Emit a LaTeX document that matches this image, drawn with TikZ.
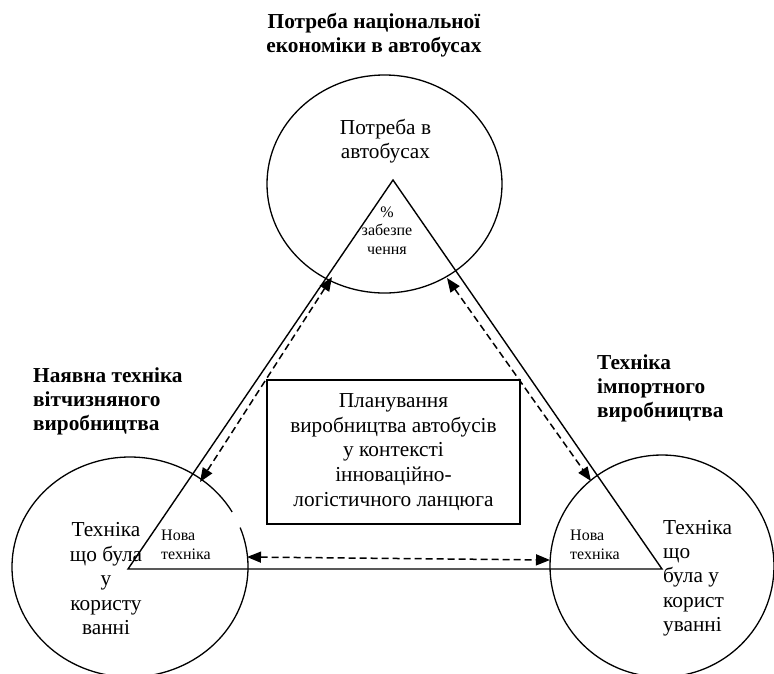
\documentclass[tikz,border=0pt]{standalone}
\usepackage{fontspec}
\setmainfont{Liberation Serif}
\usetikzlibrary{arrows.meta,shapes.geometric}
\begin{document}
\begin{tikzpicture}[x=1pt,y=-1pt,
  solidline/.style={line width=1.4pt},
  ring/.style={ellipse,draw,line width=1.3pt,inner sep=0pt},
  dasharrow/.style={line width=1.5pt,dash pattern=on 7pt off 4pt,
     {Triangle[length=14pt,width=11pt]}-{Triangle[length=14pt,width=11pt]}},
  bigtext/.style={inner sep=0pt,font=\fontsize{21.3}{24.5}\selectfont},
  smalltext/.style={inner sep=0pt,font=\fontsize{16}{18.4}\selectfont},
  headtext/.style={inner sep=0pt,font=\fontsize{21.3}{24}\selectfont\bfseries}]
\useasboundingbox (0,0) rectangle (774,673);
% circles
\node[ring,minimum width=235pt,minimum height=218pt] (topc) at (384.5,184) {};
\node[ellipse,inner sep=0pt,minimum width=236pt,minimum height=220pt] (leftc) at (130,567) {};
\draw[line width=1.3pt] (leftc.center) ++(30:118pt and 110pt) arc[start angle=30,end angle=381,x radius=118pt,y radius=110pt];
\node[ring,minimum width=224pt,minimum height=222pt] (rightc) at (662,566) {};
% triangle
\coordinate (A) at (393,180);
\coordinate (B) at (128,569);
\coordinate (C) at (662,569);
\draw[solidline] (A) -- (B) -- (C) -- cycle;
% centre box
\node[draw,line width=1.4pt,minimum width=253pt,minimum height=144pt,align=center,
  font=\fontsize{21.3}{24.75}\selectfont,inner sep=0pt] (plan) at (393.5,452)
  {Планування\\виробництва автобусів\\у контексті\\інноваційно-\\логістичного ланцюга};
% dashed arrows
\coordinate (l1) at (332,277);
\coordinate (l2) at (200,482);
\coordinate (r1) at (447,278);
\coordinate (r2) at (591,481);
\coordinate (b1) at (247,557);
\coordinate (b2) at (550,560);
\draw[dasharrow] (l1) -- (l2);
\draw[dasharrow] (r1) -- (r2);
\draw[dasharrow] (b1) -- (b2);
% texts
\node[headtext,align=center] (ttl) at (374,35) {Потреба національної\\економіки в автобусах};
\node[headtext,align=left,anchor=north west] (ltl) at (33,368) {Наявна техніка\\вітчизняного\\виробництва};
\node[headtext,align=left,anchor=north west] (rtl) at (597,355) {Техніка\\імпортного\\виробництва};
\node[bigtext,align=center] (need) at (385.5,141) {Потреба в\\автобусах};
\node[smalltext,align=center] (pct) at (387,230.5) {\%\\забезпе\\чення};
\node[bigtext,align=center] (lold) at (106,579) {Техніка\\що була\\у\\користу\\ванні};
\node[bigtext,align=left,anchor=north west,font=\fontsize{21.3}{24.25}\selectfont] (rold) at (663,520) {Техніка\\що\\була у\\корист\\уванні};
\node[smalltext,align=left,anchor=north west] (lnew) at (161,530) {Нова\\техніка};
\node[smalltext,align=left,anchor=north west] (rnew) at (570,530) {Нова\\техніка};
\end{tikzpicture}
\end{document}
